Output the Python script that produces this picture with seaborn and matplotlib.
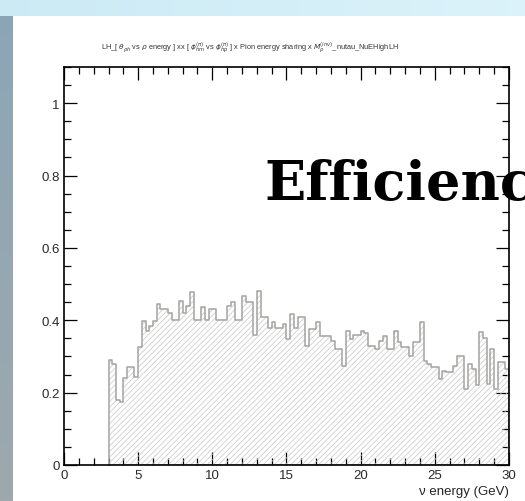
import numpy as np
import pandas as pd
import matplotlib
matplotlib.use("Agg")
import matplotlib.pyplot as plt
from matplotlib.ticker import MultipleLocator, FuncFormatter
import seaborn as sns

# Binning of the neutrino energy axis (GeV)
e_low, e_high, bin_width = 3.0, 30.0, 0.25

# Efficiency per bin, from 3.00 GeV upwards
efficiency = [
    0.29, 0.28, 0.18, 0.175, 0.24, 0.27, 0.27, 0.243, 0.326, 0.398,
    0.37, 0.384, 0.398, 0.445, 0.43, 0.43, 0.42, 0.40, 0.40, 0.453,
    0.42, 0.44, 0.478, 0.40, 0.40, 0.436, 0.40, 0.43, 0.43, 0.40,
    0.40, 0.40, 0.44, 0.45, 0.40, 0.40, 0.467, 0.45, 0.45, 0.36,
    0.48, 0.41, 0.41, 0.38, 0.395, 0.38, 0.38, 0.39, 0.348, 0.417,
    0.38, 0.41, 0.41, 0.33, 0.375, 0.375, 0.395, 0.357, 0.357, 0.357,
    0.343, 0.32, 0.32, 0.273, 0.37, 0.348, 0.36, 0.36, 0.37, 0.365,
    0.33, 0.33, 0.32, 0.343, 0.357, 0.32, 0.32, 0.37, 0.34, 0.325,
    0.325, 0.30, 0.34, 0.34, 0.395, 0.288, 0.28, 0.27, 0.27, 0.237,
    0.26, 0.256, 0.256, 0.273, 0.30, 0.30, 0.21, 0.28, 0.265, 0.22,
    0.367, 0.35, 0.224, 0.32, 0.21, 0.285, 0.285, 0.265,
]

x_ticks = [0, 5, 10, 15, 20, 25, 30]
y_ticks = [0, 0.2, 0.4, 0.6, 0.8, 1.0]

title = (r"LH_[ $\theta_{\rho h}$ vs $\rho$ energy ] xx [ $\phi^{(\pi)}_{hm}$ vs "
         r"$\phi^{(\pi)}_{hp}$ ] x Pion energy sharing x $M^{(inv)}_{\rho}$"
         r"_nutau_NuEHighLH")

edges = np.arange(e_low, e_high + bin_width / 2, bin_width)
assert len(edges) == len(efficiency) + 1
bin_edges = edges.tolist()
df = pd.DataFrame({"energy": edges[:-1] + bin_width / 2, "efficiency": efficiency})

sns.set_theme(style="white")
plt.rcParams["font.family"] = ["Liberation Sans", "DejaVu Sans"]
plt.rcParams["hatch.linewidth"] = 0.5
plt.rcParams["mathtext.fontset"] = "dejavusans"

W, H = 525, 502
fig = plt.figure(figsize=(W / 100, H / 100), dpi=100)

# Slide backdrop: light blue band on top, slate strip on the left, white panel
bg = np.ones((H, W, 3))
top_h, left_w = 17, 13
xs = np.linspace(0, 1, W)[None, :, None]
bg[:top_h] = np.array([0.80, 0.92, 0.96]) * (1 - xs) + np.array([0.86, 0.95, 0.98]) * xs
ys = np.linspace(0, 1, H - top_h)[:, None, None]
bg[top_h:, :left_w] = np.array([0.55, 0.65, 0.71]) * (1 - ys) + np.array([0.62, 0.66, 0.68]) * ys
bg_ax = fig.add_axes([0, 0, 1, 1], zorder=-10)
bg_ax.imshow(bg, aspect="auto", interpolation="bilinear")
bg_ax.axis("off")

ax = fig.add_axes([64 / W, 1 - 466 / H, 445 / W, 398 / H])
ax.set_facecolor("white")

hatch_color = "#c6c6c6"
line_color = "#a6a3a0"

# Hatched body of the histogram
sns.histplot(data=df, x="energy", weights="efficiency", bins=bin_edges,
             element="step", fill=True, color=hatch_color, facecolor="none",
             edgecolor=hatch_color, linewidth=0, hatch="//////", ax=ax)
# Outline of the histogram
sns.histplot(data=df, x="energy", weights="efficiency", bins=bin_edges,
             element="step", fill=True, color=line_color, facecolor="none",
             edgecolor=line_color, linewidth=1.1, ax=ax)

ax.set_xlim(0, 30)
ax.set_ylim(0, 1.1)
ax.set_ylabel("")
ax.set_xlabel("\u03bd energy (GeV)", loc="right", fontsize=9.5, labelpad=3)

ax.set_xticks(x_ticks)
ax.set_yticks(y_ticks)
ax.xaxis.set_minor_locator(MultipleLocator(1))
ax.yaxis.set_minor_locator(MultipleLocator(0.05))
fmt = FuncFormatter(lambda v, p: f"{v:g}")
ax.xaxis.set_major_formatter(fmt)
ax.yaxis.set_major_formatter(fmt)
ax.tick_params(which="both", direction="in", top=True, right=True,
               bottom=True, left=True, color="black", width=0.9,
               labelsize=9.5, labelcolor="#2a2a2a")
ax.tick_params(which="major", length=9.5, pad=3)
ax.tick_params(which="minor", length=4.8)
for s in ax.spines.values():
    s.set_color("black")
    s.set_linewidth(1.2)
    s.set_visible(True)

fig.text(250 / W, 1 - 48 / H, title, ha="center", va="center",
         fontsize=5.3, color="#333333")

ax.text(264 / W, 1 - 200 / H, "Efficiency", transform=fig.transFigure,
        fontsize=39, fontweight="bold", family="DejaVu Serif",
        color="black", ha="left", va="baseline", clip_on=False, zorder=2.4)

fig.savefig("out.png", dpi=100)
